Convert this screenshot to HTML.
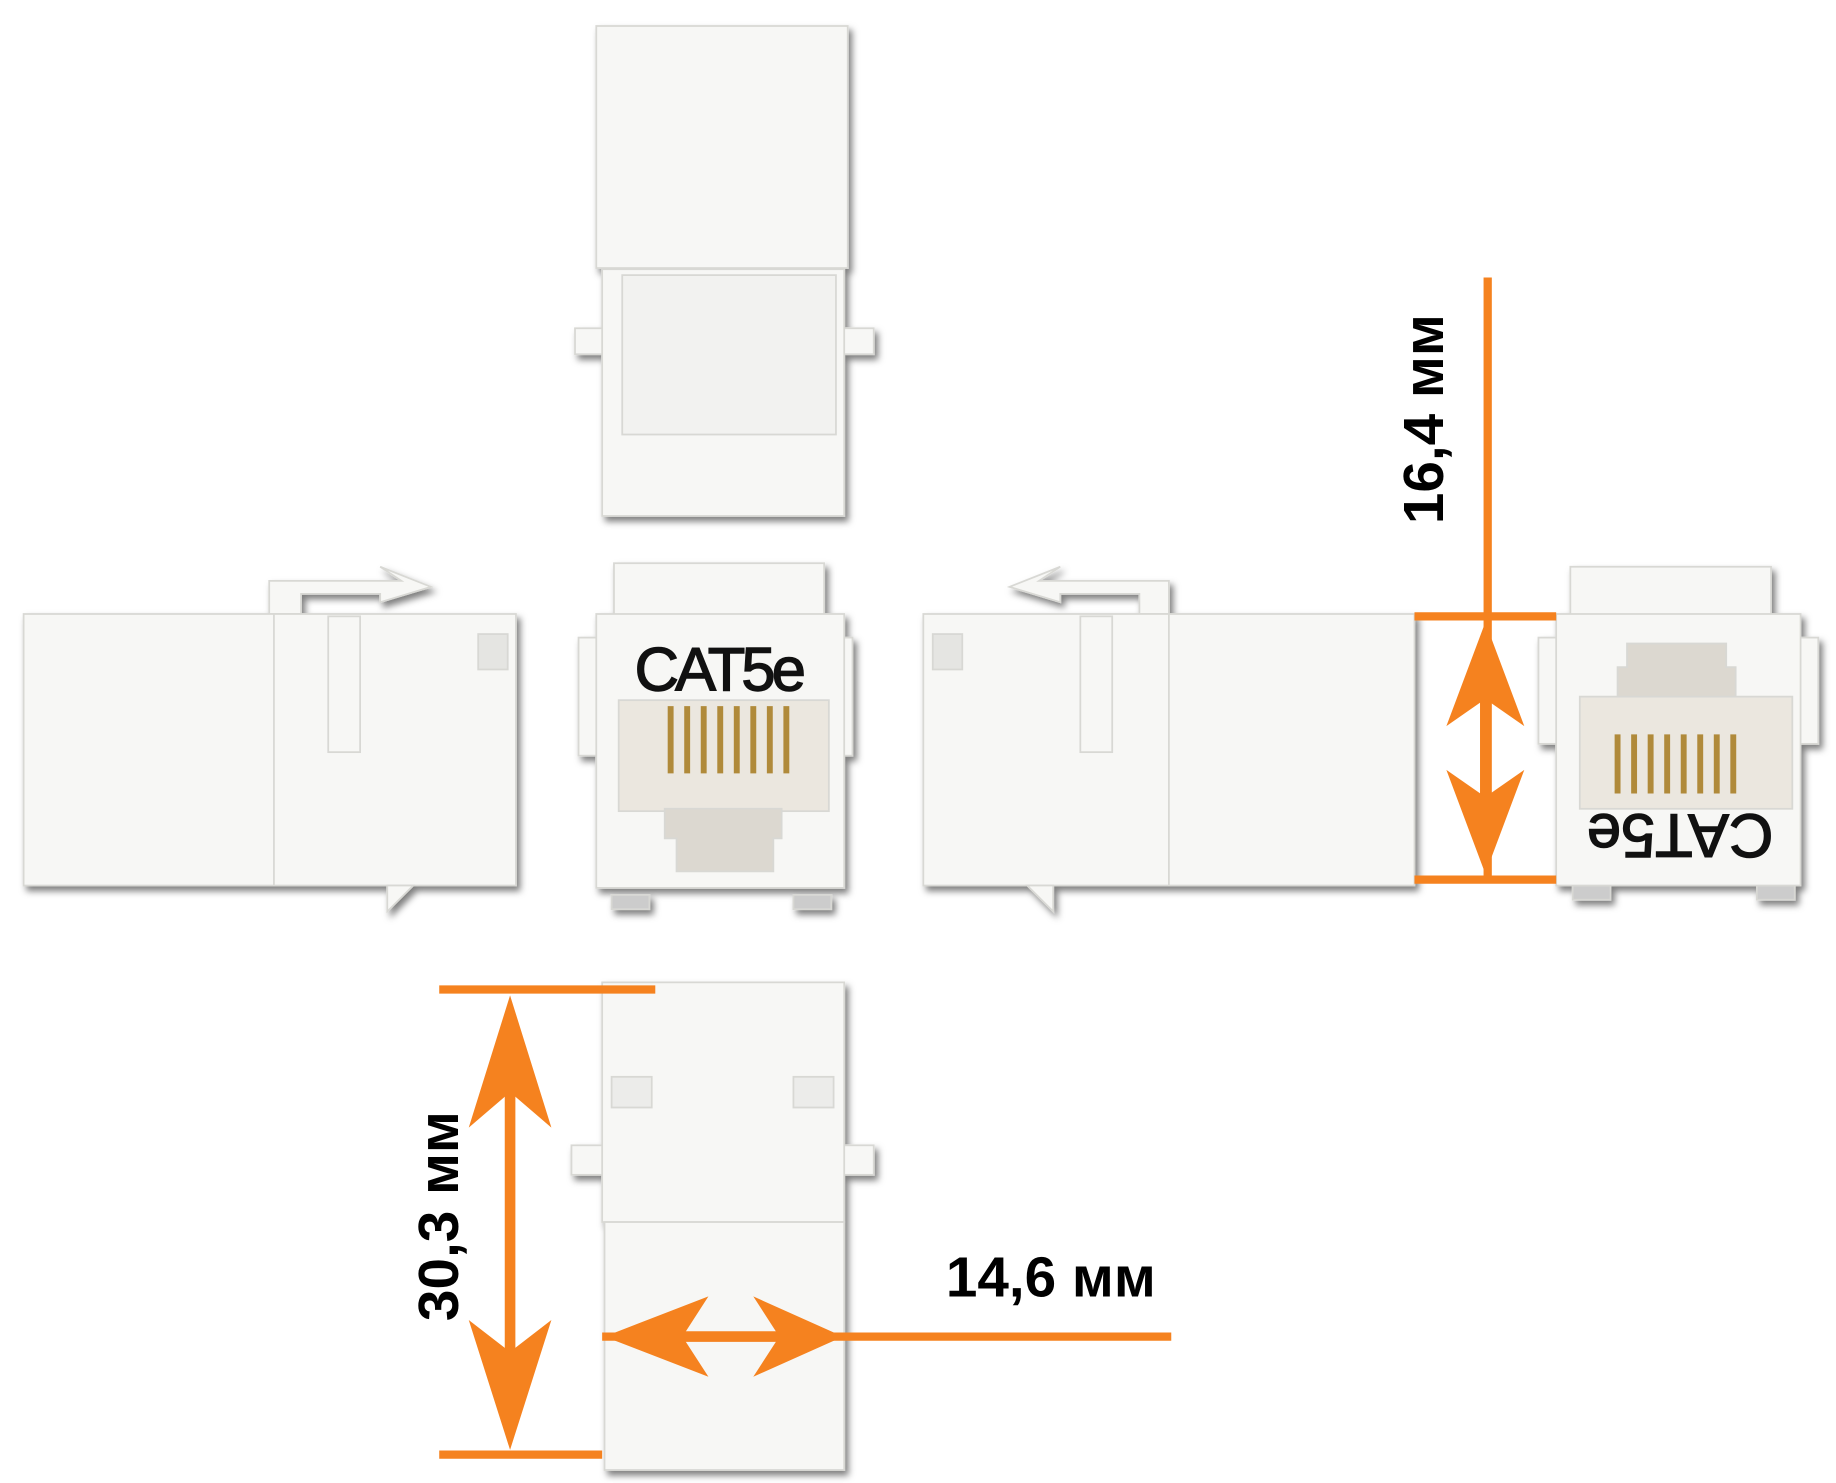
<!DOCTYPE html>
<html><head><meta charset="utf-8"><style>
html,body{margin:0;padding:0;background:#fff;}
svg{display:block}
</style></head><body>
<svg width="1836" height="1483" viewBox="0 0 1555 1256" xmlns="http://www.w3.org/2000/svg">
<defs>
<filter id="sh" x="-10%" y="-10%" width="130%" height="130%"><feDropShadow dx="3" dy="4" stdDeviation="3" flood-color="#000" flood-opacity="0.5"/></filter>
</defs>
<g fill="#f7f7f5" stroke="#d8d8d4" stroke-width="1.5" filter="url(#sh)">
<!-- top piece -->
<rect x="487" y="278" width="253" height="22"/>
<rect x="505" y="22" width="213" height="205"/>
<rect x="510" y="228" width="205" height="209"/>
<rect x="527" y="233" width="181" height="135" fill="#f2f2f0"/>
<!-- left side piece -->
<path d="M228,520 V492 H340 L322,480 L365,497 L322,510 V503 H255 V520 Z"/>
<rect x="20" y="520" width="417" height="230"/>
<line x1="232" y1="520" x2="232" y2="750"/>
<rect x="278" y="522" width="27" height="115"/>
<rect x="405" y="537" width="25" height="30" fill="#e5e5e2"/>
<path d="M328,750 L350,750 L328,772 Z"/>
<!-- center front -->
<rect x="518" y="758" width="32" height="12" fill="#ccc"/><rect x="672" y="758" width="32" height="12" fill="#ccc"/>
<rect x="520" y="477" width="178" height="45"/>
<rect x="490" y="540" width="232" height="100"/>
<rect x="505" y="520" width="210" height="232"/>
<rect x="524" y="593" width="178" height="94" fill="#ebe7df"/>
<path d="M563,685 H662 V710 H655 V738 H573 V710 H563 Z" fill="#dcd8d0"/>
<!-- right side piece -->
<path d="M990,520 V492 H880 L898,480 L855,497 L898,510 V503 H965 V520 Z"/>
<rect x="782" y="520" width="416" height="230"/>
<line x1="990" y1="520" x2="990" y2="750"/>
<rect x="915" y="522" width="27" height="115"/>
<rect x="790" y="537" width="25" height="30" fill="#e5e5e2"/>
<path d="M870,750 L892,750 L892,772 Z"/>
<!-- right front -->
<rect x="1332" y="750" width="32" height="12" fill="#ccc"/><rect x="1488" y="750" width="32" height="12" fill="#ccc"/>
<rect x="1330" y="480" width="170" height="42"/>
<rect x="1303" y="540" width="237" height="90"/>
<rect x="1318" y="520" width="207" height="230"/>
<rect x="1338" y="590" width="180" height="95" fill="#ebe7df"/>
<path d="M1370,590 H1470 V565 H1462 V545 H1378 V565 H1370 Z" fill="#dcd8d0"/>
<!-- bottom piece -->
<rect x="484" y="970" width="256" height="25"/>
<rect x="510" y="832" width="205" height="203"/>
<rect x="512" y="1035" width="203" height="210"/>
<rect x="518" y="912" width="34" height="26" fill="#ececea"/>
<rect x="672" y="912" width="34" height="26" fill="#ececea"/>
</g>
<!-- contacts -->
<g stroke="#b08a3a" stroke-width="5">
<line x1="568" y1="598" x2="568" y2="655"/><line x1="582" y1="598" x2="582" y2="655"/><line x1="596" y1="598" x2="596" y2="655"/><line x1="610" y1="598" x2="610" y2="655"/><line x1="624" y1="598" x2="624" y2="655"/><line x1="638" y1="598" x2="638" y2="655"/><line x1="652" y1="598" x2="652" y2="655"/><line x1="666" y1="598" x2="666" y2="655"/>
<line x1="1370" y1="622" x2="1370" y2="672"/><line x1="1384" y1="622" x2="1384" y2="672"/><line x1="1398" y1="622" x2="1398" y2="672"/><line x1="1412" y1="622" x2="1412" y2="672"/><line x1="1426" y1="622" x2="1426" y2="672"/><line x1="1440" y1="622" x2="1440" y2="672"/><line x1="1454" y1="622" x2="1454" y2="672"/><line x1="1468" y1="622" x2="1468" y2="672"/>
</g>
<g font-family="Liberation Sans, sans-serif" fill="#111" stroke="#111" stroke-width="1.2">
<text x="610" y="585" font-size="52" text-anchor="middle" textLength="145">CAT5e</text>
<text transform="translate(1423,690) rotate(180)" font-size="52" text-anchor="middle">CAT5e</text>
</g>
<!-- dimensions -->
<g stroke="#f5821f" stroke-width="7" fill="none">
<line x1="1260" y1="235" x2="1260" y2="745"/>
<line x1="1198" y1="522" x2="1318" y2="522"/>
<line x1="1198" y1="745" x2="1318" y2="745"/>
<line x1="1258" y1="580" x2="1258" y2="690" stroke-width="9"/>
<line x1="372" y1="838" x2="555" y2="838"/>
<line x1="372" y1="1232" x2="510" y2="1232"/>
<line x1="432" y1="900" x2="432" y2="1170" stroke-width="9"/>
<line x1="510" y1="1132" x2="992" y2="1132"/>
<line x1="560" y1="1132" x2="680" y2="1132" stroke-width="9"/>
</g>
<g fill="#f5821f">
<polygon points="432,843 467,955 432,925 397,955"/>
<polygon points="432,1228 467,1118 432,1145 397,1118"/>
<polygon points="1258,527 1291,615 1258,592 1225,615"/>
<polygon points="1258,740 1291,652 1258,675 1225,652"/>
<polygon points="512,1132 600,1098 578,1132 600,1166"/>
<polygon points="714,1132 638,1098 660,1132 638,1166"/>
</g>
<g font-family="Liberation Sans, sans-serif" font-weight="bold" font-size="48" fill="#000">
<text transform="translate(1222,355) rotate(-90)" text-anchor="middle">16,4 мм</text>
<text transform="translate(388,1030) rotate(-90)" text-anchor="middle">30,3 мм</text>
<text x="890" y="1098" text-anchor="middle">14,6 мм</text>
</g>
</svg>
</body></html>
